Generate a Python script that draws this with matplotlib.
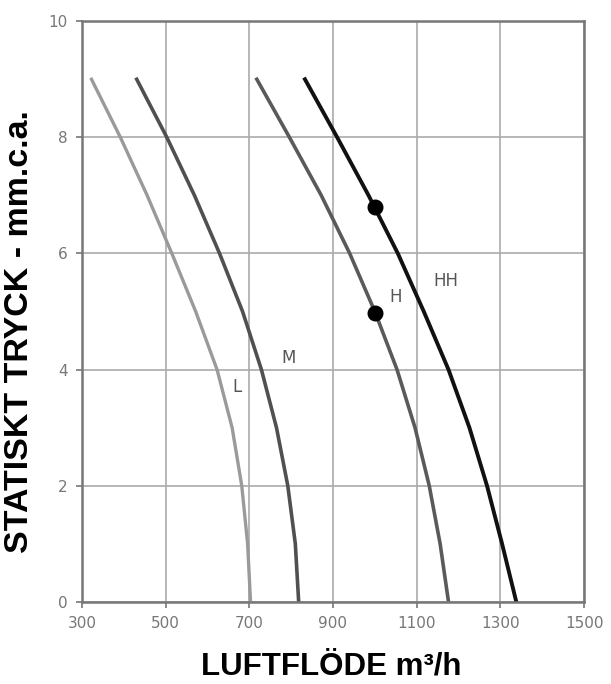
import matplotlib.pyplot as plt

# static pressure levels (mm.c.a.) where the curves were read
tryck = [9, 8, 7, 6, 5, 4, 3, 2, 1, 0]

# airflow m3/h at each pressure level, per fan speed
flow_L = [323, 392, 456, 515, 572, 623, 659, 682, 696, 703]
flow_M = [431, 503, 569, 629, 684, 729, 765, 792, 810, 818]
flow_H = [718, 796, 872, 940, 1000, 1053, 1096, 1130, 1156, 1176]
flow_HH = [833, 910, 985, 1055, 1117, 1176, 1226, 1268, 1304, 1338]

# operating points
punkt_x = [1000, 1000]
punkt_y = [6.8, 4.98]

labels = ['L', 'M', 'H', 'HH']
label_x = [659, 776, 1034, 1140]
label_y = [3.7, 4.2, 5.25, 5.52]

fig = plt.figure(figsize=(6.11, 6.84), dpi=100)
ax = fig.add_axes([0.134, 0.12, 0.822, 0.849])

ax.plot(flow_L, tryck, c='#9a9a9a', lw=2.4, solid_joinstyle='round')
ax.plot(flow_M, tryck, c='#505050', lw=2.6, solid_joinstyle='round')
ax.plot(flow_H, tryck, c='#5a5a5a', lw=2.6, solid_joinstyle='round')
ax.plot(flow_HH, tryck, c='#111111', lw=2.8, solid_joinstyle='round')
ax.scatter(punkt_x, punkt_y, s=110, c='black', zorder=5)

for i in range(4):
    ax.text(label_x[i], label_y[i], labels[i], fontsize=12, color='#555555',
            ha='left', va='center')

ax.set_xlim(300, 1500)
ax.set_ylim(0, 10)
ax.set_xticks([300, 500, 700, 900, 1100, 1300, 1500])
ax.set_yticks([0, 2, 4, 6, 8, 10])
ax.grid(True, color='#aaaaaa', lw=1.2)
for s in ax.spines.values():
    s.set_color('#777777')
    s.set_linewidth(1.8)
ax.tick_params(colors='#777777', labelcolor='#777777', labelsize=11, length=4, width=1.2, pad=6)

ax.set_xlabel('LUFTFLÖDE m³/h', fontsize=22.5, fontweight='bold',
              family='Liberation Sans')
ax.xaxis.set_label_coords(0.496, -0.085)
ax.set_ylabel('STATISKT TRYCK - mm.c.a.', fontsize=24.5, fontweight='bold',
              family='Liberation Sans')
ax.yaxis.set_label_coords(-0.094, 0.465)

plt.savefig('out.png', dpi=100)
